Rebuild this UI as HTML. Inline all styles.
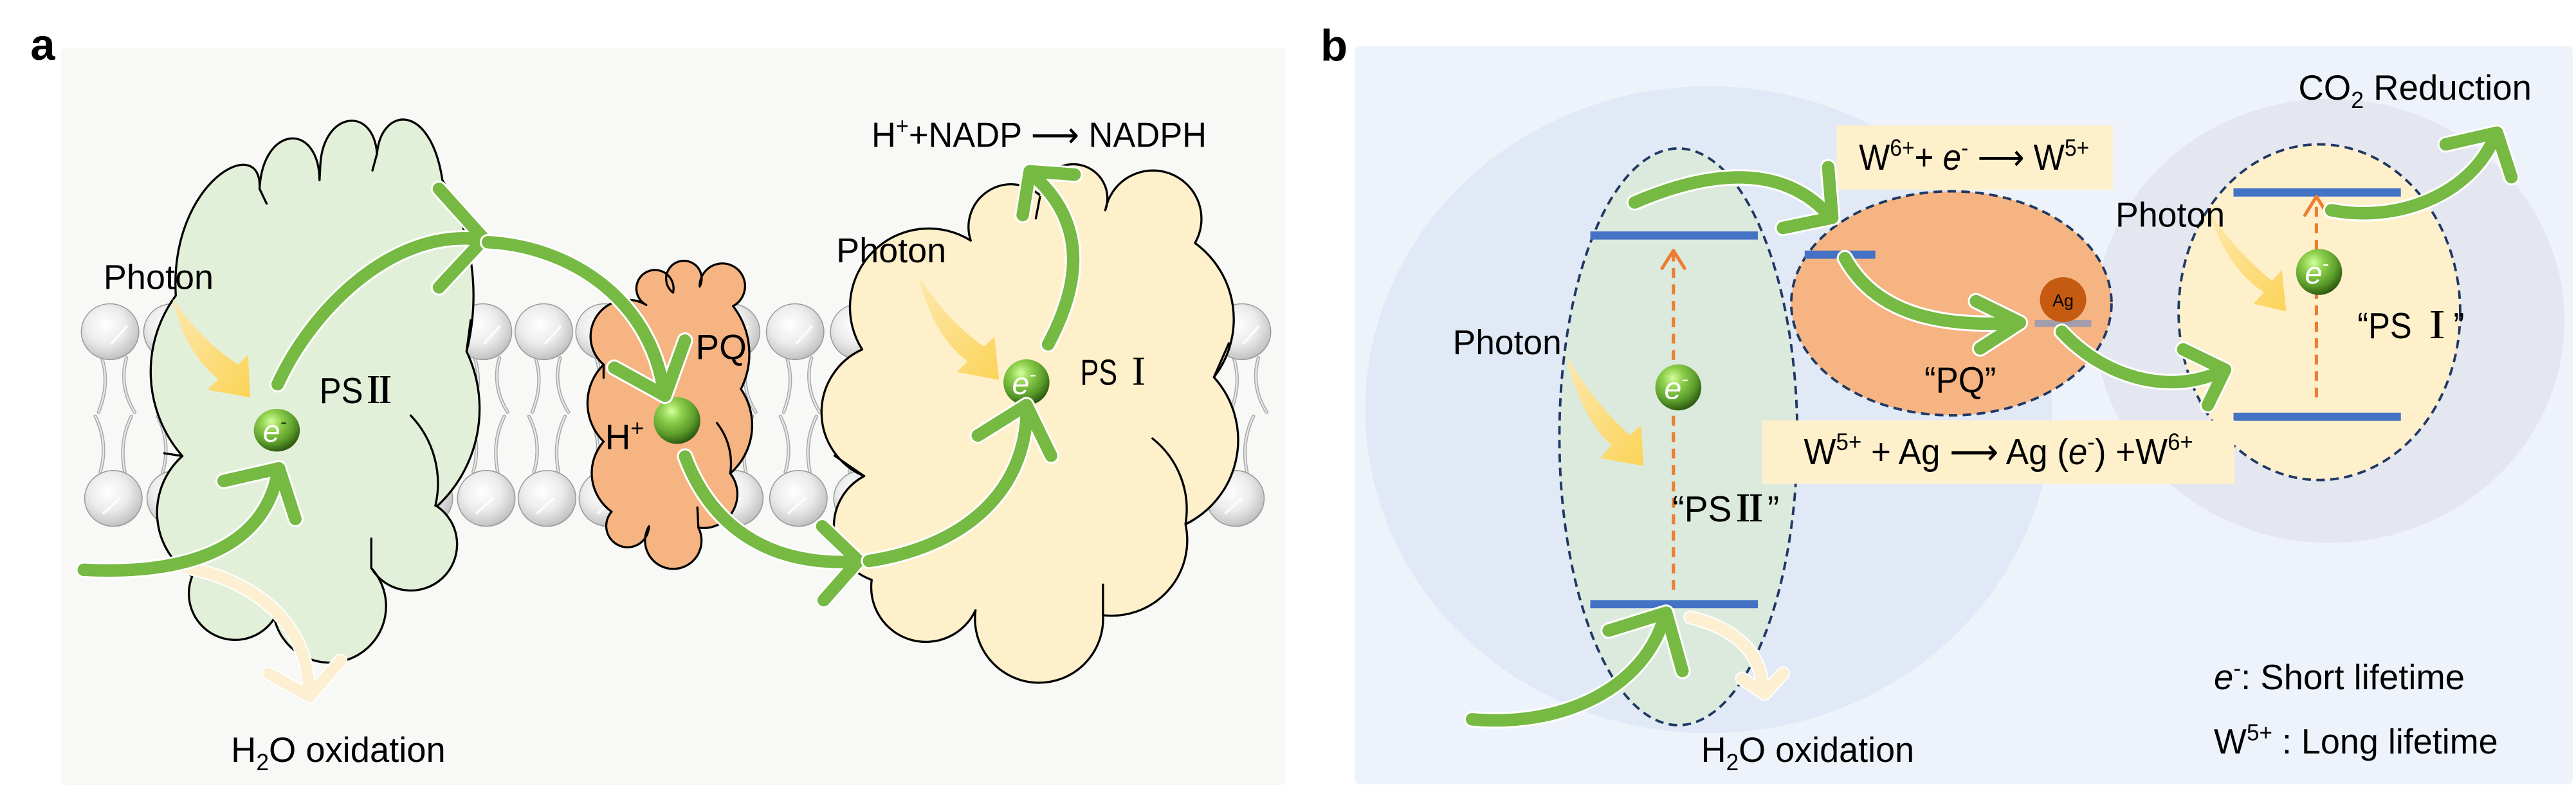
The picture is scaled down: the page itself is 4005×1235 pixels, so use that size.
<!DOCTYPE html>
<html>
<head>
<meta charset="utf-8">
<style>
html,body{margin:0;padding:0;background:#ffffff;overflow:hidden;}
svg{display:block;}
.t{font-family:"Liberation Sans",Arial,sans-serif;fill:#000;}
.rn{font-family:"Noto Serif CJK SC","Liberation Serif",serif;font-weight:bold;}
.la{font-family:"DejaVu Sans","Liberation Sans",sans-serif;}
.cl{stroke:#000;stroke-width:1.3;stroke-linejoin:round;}
.ln{fill:none;stroke:#000;stroke-width:1.3;stroke-linecap:round;}
.tl{fill:none;stroke:#a9a9a9;stroke-width:2.1;stroke-linecap:round;}
.ti{fill:none;stroke:#e8e8e8;stroke-width:0.9;stroke-linecap:round;}
.aw{fill:none;stroke:#ffffff;stroke-width:10;stroke-linecap:round;stroke-linejoin:round;}
.ag{fill:none;stroke:#76b943;stroke-width:7.6;stroke-linecap:round;stroke-linejoin:round;}
.ap{fill:none;stroke:#fcefd2;stroke-width:7;stroke-linecap:round;stroke-linejoin:round;}
.apw{fill:none;stroke:#ffffff;stroke-width:8.6;stroke-linecap:round;stroke-linejoin:round;}
.dsh{fill:none;stroke:#1f3864;stroke-width:1.5;stroke-dasharray:5.2 3.3;}
.od{fill:none;stroke:#ed7d31;stroke-width:2;stroke-dasharray:6 4;}
.oh{fill:none;stroke:#ed7d31;stroke-width:2;stroke-linecap:round;stroke-linejoin:round;}
.bar{stroke:#4472c4;stroke-width:5;}
</style>
</head>
<body>
<svg width="4005" height="1235" viewBox="0 0 1568 483.5" preserveAspectRatio="none" xmlns="http://www.w3.org/2000/svg">
<defs>
  <radialGradient id="headG" cx="0.42" cy="0.38" r="0.68">
    <stop offset="0" stop-color="#ffffff"/>
    <stop offset="0.5" stop-color="#ececec"/>
    <stop offset="0.88" stop-color="#c6c6c6"/>
    <stop offset="1" stop-color="#a5a5a5"/>
  </radialGradient>
  <radialGradient id="ballG" cx="0.38" cy="0.3" r="0.75">
    <stop offset="0" stop-color="#d4ff9c"/>
    <stop offset="0.3" stop-color="#8fd04e"/>
    <stop offset="0.68" stop-color="#5a9c2a"/>
    <stop offset="1" stop-color="#254d0c"/>
  </radialGradient>
  <linearGradient id="yel" x1="0" y1="0" x2="1" y2="1">
    <stop offset="0" stop-color="#fde8ae"/>
    <stop offset="1" stop-color="#fcd458"/>
  </linearGradient>
  <g id="lipT">
    <path class="tl" d="M-5,16 C-2,26 -2,36 -7,49"/><path class="ti" d="M-5,16 C-2,26 -2,36 -7,49"/>
    <path class="tl" d="M10,16 C7,26 8,38 15,49"/><path class="ti" d="M10,16 C7,26 8,38 15,49"/>
    <ellipse cx="0" cy="0" rx="17.5" ry="17" fill="url(#headG)" stroke="#9a9a9a" stroke-width="0.6"/>
    <path d="M1,7 L10,-3" stroke="#ffffff" stroke-width="1.4" stroke-linecap="round" opacity="0.85"/>
  </g>
  <g id="lipB">
    <path class="tl" d="M-8,-16 C-5,-26 -5,-38 -11,-50"/><path class="ti" d="M-8,-16 C-5,-26 -5,-38 -11,-50"/>
    <path class="tl" d="M7,-16 C5,-26 5,-38 11,-50"/><path class="ti" d="M7,-16 C5,-26 5,-38 11,-50"/>
    <ellipse cx="0" cy="0" rx="17.5" ry="17" fill="url(#headG)" stroke="#9a9a9a" stroke-width="0.6"/>
    <path d="M-6,9 L4,0" stroke="#ffffff" stroke-width="1.4" stroke-linecap="round" opacity="0.85"/>
  </g>
</defs>

<!-- ================= PANEL A ================= -->
<rect x="37" y="29.3" width="746" height="448.7" rx="3" fill="#f8f8f6"/>

<!-- lipids -->
<g>
<use href="#lipT" x="67" y="202"/><use href="#lipT" x="105" y="202"/><use href="#lipT" x="142" y="202"/>
<use href="#lipT" x="180" y="202"/><use href="#lipT" x="218" y="202"/><use href="#lipT" x="256" y="202"/>
<use href="#lipT" x="294" y="202"/><use href="#lipT" x="331" y="202"/><use href="#lipT" x="368" y="202"/>
<use href="#lipT" x="405" y="202"/><use href="#lipT" x="445" y="202"/><use href="#lipT" x="484" y="202"/>
<use href="#lipT" x="523" y="202"/><use href="#lipT" x="562" y="202"/><use href="#lipT" x="601" y="202"/>
<use href="#lipT" x="640" y="202"/><use href="#lipT" x="679" y="202"/><use href="#lipT" x="718" y="202"/>
<use href="#lipT" x="756" y="202"/>
<use href="#lipB" x="69" y="303.5"/><use href="#lipB" x="107" y="303.5"/><use href="#lipB" x="145" y="303.5"/>
<use href="#lipB" x="183" y="303.5"/><use href="#lipB" x="220" y="303.5"/><use href="#lipB" x="258" y="303.5"/>
<use href="#lipB" x="296" y="303.5"/><use href="#lipB" x="333" y="303.5"/><use href="#lipB" x="370" y="303.5"/>
<use href="#lipB" x="408" y="303.5"/><use href="#lipB" x="447" y="303.5"/><use href="#lipB" x="486" y="303.5"/>
<use href="#lipB" x="525" y="303.5"/><use href="#lipB" x="564" y="303.5"/><use href="#lipB" x="603" y="303.5"/>
<use href="#lipB" x="641" y="303.5"/><use href="#lipB" x="679" y="303.5"/><use href="#lipB" x="716" y="303.5"/>
<use href="#lipB" x="752" y="303.5"/>
</g>

<!-- PSII cloud -->
<path class="cl" fill="#e2f0da" d="M111,277.7 A78 78 0 0 1 107,180 C103,110 160,80 158,115 C160,76 194,74 194.5,109.7 L195,100 C197,68 227,64 229.5,93.5 C232,65 262,62 269.3,109.7 A140 140 0 0 1 284,214 A81 81 0 0 1 266,308.3 A28.1 28.1 0 1 1 226,345.9 A34.4 34.4 0 1 1 167,376.5 A28.2 28.2 0 0 1 117,350.9 A46 46 0 0 1 111,277.7 Z"/>
<path class="ln" d="M250,253 A60 60 0 0 1 265,308"/>
<path class="ln" d="M226,345.9 L226,328"/>
<path class="ln" d="M111,277.7 L100,276"/>
<path class="ln" d="M158,115 L162.3,124"/>
<path class="ln" d="M229.5,93.5 L226.7,103.8"/>
<path class="ln" d="M284,214 L286.5,195"/>

<!-- PQ cloud -->
<path class="cl" fill="#f5b482" d="M367.4,268.9 A33 33 0 0 1 367.4,222 A22.4 22.4 0 0 1 393.4,185.7 A11.3 11.3 0 1 1 409.7,178.2 A10.8 10.8 0 1 1 425.9,174.5 A13.8 13.8 0 1 1 446.2,186.4 A47.6 47.6 0 0 1 451,236.9 A39 39 0 0 1 444.5,288.3 A20.6 20.6 0 0 1 425.1,321.3 A17.2 17.2 0 1 1 395,320.5 A13 13 0 1 1 372.3,311.6 A29 29 0 0 1 367.4,268.9 Z"/>
<path class="ln" d="M436.4,257.6 A40 40 0 0 1 444.5,288.3"/>
<path class="ln" d="M424.5,309 L425.1,321.3"/>
<path class="ln" d="M367.4,222 L367.4,230"/>

<!-- PSI cloud -->
<path class="cl" fill="#fff0cc" d="M526,289.9 A42 42 0 0 1 524.8,212.8 A48 48 0 0 1 590.9,146.5 A26 26 0 0 1 632.6,118.6 A20.8 20.8 0 1 1 672.8,128 A29.5 29.5 0 1 1 727.4,148 A57.5 57.5 0 0 1 738.9,229.7 A57 57 0 0 1 721.6,319.2 A45.9 45.9 0 0 1 671.4,374.6 A39 39 0 1 1 593.8,371.6 A33.3 33.3 0 0 1 530.6,353.1 A34.6 34.6 0 0 1 526,289.9 Z"/>
<path class="ln" d="M701.5,267 A55 55 0 0 1 721.6,319.2"/>
<path class="ln" d="M671.4,356 L671.4,374.6"/>
<path class="ln" d="M738.9,229.7 L748,209"/>
<path class="ln" d="M508,277.5 L526,289.9"/>
<path class="ln" d="M633,120 L630.5,133"/>

<!-- yellow photon arrows (a) -->
<path fill="url(#yel)" d="M105,182 Q112,214 133,231 L126.1,237.4 L152.3,242 L151,215.8 L145,222 Q122,207 105,182 Z"/>
<path fill="url(#yel)" d="M559,168 Q568,205 589,220 L582.3,226.6 L608.1,231.3 L605.3,205 L599,211 Q577,196 559,168 Z"/>

<!-- balls (a) -->
<ellipse cx="168.5" cy="262" rx="14" ry="13" fill="url(#ballG)"/>
<text class="t" x="160" y="269" font-size="19" font-style="italic" style="fill:#fff">e<tspan font-size="12" dy="-8" style="fill:#1d3d08">-</tspan></text>
<circle cx="412.1" cy="256.1" r="14.2" fill="url(#ballG)"/>
<circle cx="624.8" cy="232.8" r="14" fill="url(#ballG)"/>
<text class="t" x="616" y="240" font-size="19" font-style="italic" style="fill:#fff">e<tspan font-size="12" dy="-8">-</tspan></text>

<!-- text (a) -->
<text class="t" x="18.5" y="36.4" font-size="27" font-weight="bold">a</text>
<text class="t" x="63" y="176" font-size="21" textLength="67" lengthAdjust="spacingAndGlyphs">Photon</text>
<text class="t" x="194.5" y="245.4" font-size="22" textLength="46.3" lengthAdjust="spacingAndGlyphs">PS<tspan class="rn">Ⅱ</tspan></text>
<text class="t" x="423.4" y="218.7" font-size="21.5">PQ</text>
<text class="t" x="368.3" y="273.4" font-size="21.5">H<tspan font-size="14" dy="-8">+</tspan></text>
<text class="t" x="509" y="159.7" font-size="21" textLength="67" lengthAdjust="spacingAndGlyphs">Photon</text>
<text class="t" x="657.6" y="234.3" font-size="22" textLength="44" lengthAdjust="spacingAndGlyphs">PS <tspan class="rn">Ⅰ</tspan></text>
<text class="t" x="530.5" y="89.4" font-size="21.5" textLength="204" lengthAdjust="spacingAndGlyphs">H<tspan font-size="14" dy="-8">+</tspan><tspan dy="8">+NADP </tspan><tspan class="la">⟶</tspan><tspan> NADPH</tspan></text>
<text class="t" x="140.6" y="464" font-size="21.5" textLength="130.6" lengthAdjust="spacingAndGlyphs">H<tspan font-size="14" dy="5">2</tspan><tspan dy="-5">O oxidation</tspan></text>

<!-- arrows (a) -->
<path class="apw" d="M112,345.4 C150,352 188,376 188,422"/>
<path class="apw" d="M163.5,410.2 L188.5,424 L207.2,402.4"/>
<path class="ap" d="M112,345.4 C150,352 188,376 188,422"/>
<path class="ap" d="M163.5,410.2 L188.5,424 L207.2,402.4"/>

<path class="aw" d="M51,347 C110,350 160,336 169,288"/>
<path class="aw" d="M136.1,292.9 L169.8,285.2 L179.8,316"/>
<path class="ag" d="M51,347 C110,350 160,336 169,288"/>
<path class="ag" d="M136.1,292.9 L169.8,285.2 L179.8,316"/>

<path class="aw" d="M169,234 C190,188 240,138 294,146"/>
<path class="aw" d="M267.2,115 L294.6,145.5 L267.2,175"/>
<path class="ag" d="M169,234 C190,188 240,138 294,146"/>
<path class="ag" d="M267.2,115 L294.6,145.5 L267.2,175"/>

<path class="aw" d="M297,147.5 C345,150 395,180 404,238"/>
<path class="aw" d="M373.9,223.9 L404.8,241 L416.9,207.4"/>
<path class="ag" d="M297,147.5 C345,150 395,180 404,238"/>
<path class="ag" d="M373.9,223.9 L404.8,241 L416.9,207.4"/>

<path class="aw" d="M417,278 C432,318 465,345 521,342"/>
<path class="aw" d="M500.5,320.5 L522.5,341.5 L501.4,365.5"/>
<path class="ag" d="M417,278 C432,318 465,345 521,342"/>
<path class="ag" d="M500.5,320.5 L522.5,341.5 L501.4,365.5"/>

<path class="aw" d="M529,341.6 C585,333 625,301 625,248"/>
<path class="aw" d="M595.2,265.2 L624.8,246.7 L639.8,277.5"/>
<path class="ag" d="M529,341.6 C585,333 625,301 625,248"/>
<path class="ag" d="M595.2,265.2 L624.8,246.7 L639.8,277.5"/>

<path class="aw" d="M638,209.7 C655,178 665,138 628,106"/>
<path class="aw" d="M654.1,106.3 L626.8,104.3 L622.5,131"/>
<path class="ag" d="M638,209.7 C655,178 665,138 628,106"/>
<path class="ag" d="M654.1,106.3 L626.8,104.3 L622.5,131"/>

<!-- ================= PANEL B ================= -->
<rect x="824.6" y="28.1" width="741.4" height="449.5" rx="3" fill="#eef3fb"/>
<ellipse cx="1040" cy="249.5" rx="209" ry="197" fill="#e1e9f6"/>
<ellipse cx="1418" cy="195.4" rx="143" ry="135.2" fill="#e4e7ef"/>

<!-- PSII ellipse -->
<ellipse cx="1021.6" cy="266" rx="72.4" ry="175.6" fill="#dbeadc"/>
<ellipse class="dsh" cx="1021.6" cy="266" rx="72.4" ry="175.6"/>
<line class="bar" x1="968" y1="143.4" x2="1070" y2="143.4"/>
<line class="bar" x1="968" y1="367.9" x2="1070" y2="367.9"/>
<line class="od" x1="1018.6" y1="359.2" x2="1018.6" y2="154"/>
<path class="oh" d="M1011.7,163.4 L1018.6,152.6 L1025.4,163.4"/>

<!-- PQ ellipse -->
<ellipse cx="1187.8" cy="184.7" rx="97.5" ry="68.2" fill="#f5b482"/>
<ellipse class="dsh" cx="1187.8" cy="184.7" rx="97.5" ry="68.2"/>
<line class="bar" x1="1098.5" y1="155.1" x2="1141.5" y2="155.1"/>
<rect x="1238.6" y="194.9" width="34.4" height="4.2" fill="#a39caa"/>
<ellipse cx="1255.8" cy="182.5" rx="14.1" ry="13.7" fill="#c55a11"/>
<text class="t" x="1255.8" y="186.5" font-size="10.5" text-anchor="middle">Ag</text>

<!-- PSI circle -->
<ellipse cx="1411.8" cy="190.1" rx="85.7" ry="102.2" fill="#fff0cc"/>
<ellipse class="dsh" cx="1411.8" cy="190.1" rx="85.7" ry="102.2"/>
<line class="bar" x1="1359.5" y1="117.2" x2="1461.4" y2="117.2"/>
<line class="bar" x1="1359.5" y1="253.8" x2="1461.4" y2="253.8"/>
<line class="od" x1="1410" y1="242" x2="1410" y2="121"/>
<path class="oh" d="M1403,131 L1410,119.6 L1417,131"/>

<!-- boxes -->
<rect x="1117.9" y="76.4" width="168.3" height="39.1" fill="#fff0cc"/>
<rect x="1072.7" y="256" width="287.4" height="38.6" fill="#fff0cc"/>

<!-- yellow photon arrows (b) -->
<path fill="url(#yel)" d="M953,216 Q963,256 981,271 L974,279 L1000.4,283.7 L999,259 L992,265 Q970,245 953,216 Z"/>
<path fill="url(#yel)" d="M1345,129.5 Q1355,163 1378,178 L1371.7,185 L1391.5,189.6 L1389,164.4 L1383,171 Q1362,154 1345,129.5 Z"/>

<!-- balls (b) -->
<circle cx="1021.6" cy="235.9" r="14" fill="url(#ballG)"/>
<text class="t" x="1013" y="243" font-size="19" font-style="italic" style="fill:#fff">e<tspan font-size="12" dy="-8">-</tspan></text>
<circle cx="1411.6" cy="165.6" r="14" fill="url(#ballG)"/>
<text class="t" x="1403" y="172.7" font-size="19" font-style="italic" style="fill:#fff">e<tspan font-size="12" dy="-8">-</tspan></text>

<!-- text (b) -->
<text class="t" x="803.8" y="36.9" font-size="27" font-weight="bold">b</text>
<text class="t" x="884.3" y="215.8" font-size="21" textLength="66.2" lengthAdjust="spacingAndGlyphs">Photon</text>
<text class="t" x="1018" y="317.6" font-size="22" textLength="65" lengthAdjust="spacingAndGlyphs">“PS<tspan class="rn">Ⅱ</tspan>”</text>
<text class="t" x="1035.4" y="464" font-size="21.5" textLength="129.8" lengthAdjust="spacingAndGlyphs">H<tspan font-size="14" dy="5">2</tspan><tspan dy="-5">O oxidation</tspan></text>
<text class="t" x="1131.5" y="103.4" font-size="22" textLength="140.2" lengthAdjust="spacingAndGlyphs">W<tspan font-size="14.5" dy="-8.5">6+</tspan><tspan dy="8.5">+ </tspan><tspan font-style="italic">e</tspan><tspan font-size="14.5" dy="-8.5">-</tspan><tspan dy="8.5"> </tspan><tspan class="la">⟶</tspan><tspan> W</tspan><tspan font-size="14.5" dy="-8.5">5+</tspan></text>
<text class="t" x="1171.4" y="239" font-size="22" textLength="43.6" lengthAdjust="spacingAndGlyphs">“PQ”</text>
<text class="t" x="1098" y="282.6" font-size="22" textLength="237" lengthAdjust="spacingAndGlyphs">W<tspan font-size="14.5" dy="-8.5">5+</tspan><tspan dy="8.5"> + Ag </tspan><tspan class="la">⟶</tspan><tspan> Ag (</tspan><tspan font-style="italic">e</tspan><tspan font-size="14.5" dy="-8.5">-</tspan><tspan dy="8.5">) +W</tspan><tspan font-size="14.5" dy="-8.5">6+</tspan></text>
<text class="t" x="1287.7" y="138.1" font-size="21" textLength="66.6" lengthAdjust="spacingAndGlyphs">Photon</text>
<text class="t" x="1435" y="206" font-size="22" textLength="65" lengthAdjust="spacingAndGlyphs">“PS <tspan class="rn">Ⅰ</tspan>”</text>
<text class="t" x="1399" y="60.7" font-size="21.5" textLength="142" lengthAdjust="spacingAndGlyphs">CO<tspan font-size="14" dy="5">2</tspan><tspan dy="-5"> Reduction</tspan></text>
<text class="t" x="1347.6" y="419.6" font-size="21.5" textLength="152.7" lengthAdjust="spacingAndGlyphs"><tspan font-style="italic">e</tspan><tspan font-size="14" dy="-8">-</tspan><tspan dy="8">: Short lifetime</tspan></text>
<text class="t" x="1347.6" y="458.8" font-size="21.5" textLength="172.9" lengthAdjust="spacingAndGlyphs">W<tspan font-size="14" dy="-8">5+</tspan><tspan dy="8"> : Long lifetime</tspan></text>

<!-- arrows (b) -->
<path class="apw" d="M1029,376 C1050,381 1072,393 1073,420"/>
<path class="apw" d="M1060.4,413.2 L1074.1,422.5 L1085.3,410.1"/>
<path class="ap" d="M1029,376 C1050,381 1072,393 1073,420"/>
<path class="ap" d="M1060.4,413.2 L1074.1,422.5 L1085.3,410.1"/>

<path class="aw" d="M896,438 C950,443 1000,420 1013,376"/>
<path class="aw" d="M979.2,384 L1014.2,373.1 L1024.1,408.6"/>
<path class="ag" d="M896,438 C950,443 1000,420 1013,376"/>
<path class="ag" d="M979.2,384 L1014.2,373.1 L1024.1,408.6"/>

<path class="aw" d="M995,123.3 C1040,104 1085,99 1114,132"/>
<path class="aw" d="M1112.8,101.8 L1115.3,132.6 L1085.3,138.8"/>
<path class="ag" d="M995,123.3 C1040,104 1085,99 1114,132"/>
<path class="ag" d="M1112.8,101.8 L1115.3,132.6 L1085.3,138.8"/>

<path class="aw" d="M1123,157.2 C1140,188 1175,200 1228,196.5"/>
<path class="aw" d="M1202.8,183.4 L1229.5,196.5 L1205.3,212.2"/>
<path class="ag" d="M1123,157.2 C1140,188 1175,200 1228,196.5"/>
<path class="ag" d="M1202.8,183.4 L1229.5,196.5 L1205.3,212.2"/>

<path class="aw" d="M1255,202 C1280,229 1320,242 1354,225.2"/>
<path class="aw" d="M1328.9,212.8 L1354.4,225.1 L1343.9,246.7"/>
<path class="ag" d="M1255,202 C1280,229 1320,242 1354,225.2"/>
<path class="ag" d="M1328.9,212.8 L1354.4,225.1 L1343.9,246.7"/>

<path class="aw" d="M1419,128 C1460,136 1505,118 1519,82"/>
<path class="aw" d="M1488.7,87.9 L1519.9,80.8 L1528.7,107.9"/>
<path class="ag" d="M1419,128 C1460,136 1505,118 1519,82"/>
<path class="ag" d="M1488.7,87.9 L1519.9,80.8 L1528.7,107.9"/>
</svg>
</body>
</html>
